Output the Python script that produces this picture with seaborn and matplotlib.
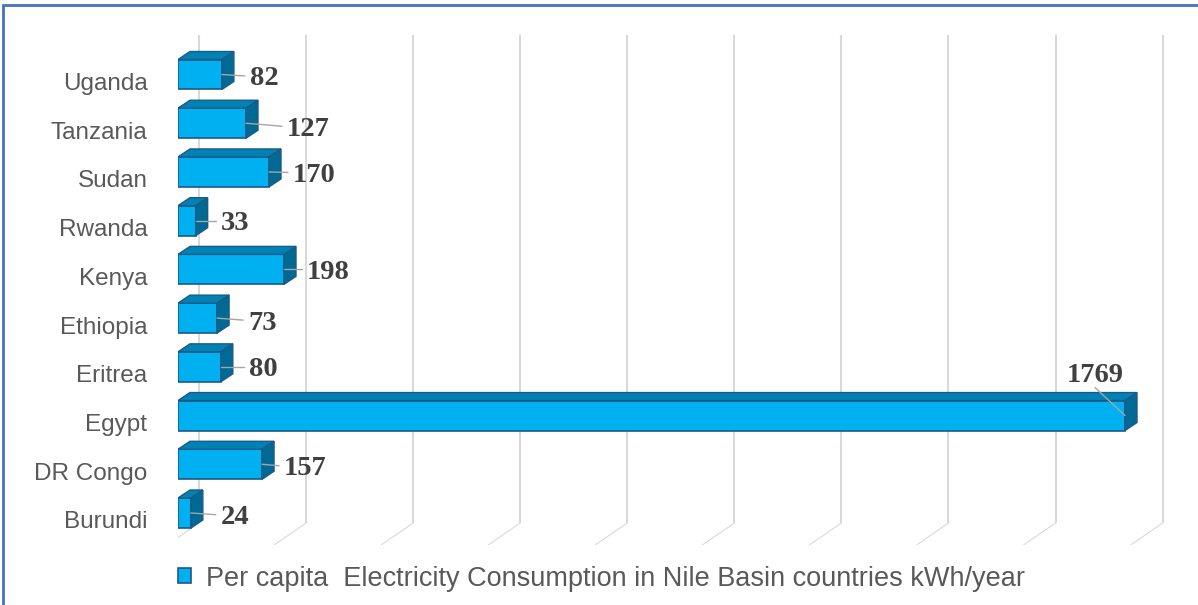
import matplotlib
matplotlib.use("Agg")
import matplotlib.pyplot as plt
from matplotlib.patches import Polygon, Rectangle
from matplotlib.transforms import ScaledTranslation
import seaborn as sns
import pandas as pd

# Per capita electricity consumption, kWh/year
countries = ["Uganda", "Tanzania", "Sudan", "Rwanda", "Kenya",
             "Ethiopia", "Eritrea", "Egypt", "DR Congo", "Burundi"]
consumption = [82, 127, 170, 33, 198, 73, 80, 1769, 157, 24]
grid_values = [0, 200, 400, 600, 800, 1000, 1200, 1400, 1600, 1800]
series_label = "Per capita  Electricity Consumption in Nile Basin countries kWh/year"

# Placement of each value label relative to the bar end, in pixels
# (dx right, dy down to the label's middle, horizontal alignment)
label_place = [(28, 1.5, "left"), (41, 3, "left"), (24, 0.5, "left"),
               (25, 0, "left"), (23, 0, "left"), (31, 2, "left"),
               (28, 0, "left"), (-30, -43, "center"), (22, 1.5, "left"),
               (30, 1.7, "left")]

FRONT = "#00B0F0"
TOP = "#0082B4"
SIDE = "#006A94"
EDGE = "#1C5A86"
GRID = "#D9D9D9"
DEPTH_X, DEPTH_Y = 12, 8          # bar depth in pixels (right, up)
WALL_X = 21                       # back wall offset in pixels

sns.set_theme(style="white")
plt.rcParams["font.family"] = ["Liberation Sans", "DejaVu Sans"]

W, H = 1198, 605
fig = plt.figure(figsize=(W / 100, H / 100), dpi=100)
ax = fig.add_axes([178 / W, 1 - 545 / H, 1000 / W, 510 / H])

df = pd.DataFrame({"country": countries, "kwh": consumption})
sns.barplot(data=df, x="kwh", y="country", orient="h", color=FRONT,
            saturation=1, width=0.615, edgecolor=EDGE, linewidth=1.2,
            label=series_label, ax=ax, zorder=3)

ax.set_xlim(0, 1868)
ax.set_ylim(9.657, -0.8107)
ax.set_xlabel("")
ax.set_ylabel("")
ax.set_xticks([])
for s in ax.spines.values():
    s.set_visible(False)


def nudge(x, y, dx=0.0, dy=0.0):
    """Shift a data point by (dx, dy) screen pixels; dy measured downward."""
    px, py = ax.transData.transform((x, y))
    return ax.transData.inverted().transform((px + dx, py - dy))


y_top, y_bot = ax.get_ylim()[1], ax.get_ylim()[0]

# back wall gridlines and floor lines
for v in grid_values:
    p_top = nudge(v, y_top, WALL_X, 0)
    p_bot = nudge(v, y_bot, WALL_X, -22)
    p_floor = nudge(v, y_bot, WALL_X - 32, 0)
    ax.plot([p_top[0], p_bot[0]], [p_top[1], p_bot[1]], color=GRID,
            lw=1.5, zorder=0, solid_capstyle="butt")
    ax.plot([p_bot[0], p_floor[0]], [p_bot[1], p_floor[1]], color=GRID,
            lw=0.8, zorder=0)

# top and side faces for each bar
for i, bar in enumerate(ax.patches):
    x0 = bar.get_x()
    x1 = x0 + bar.get_width()
    ya = bar.get_y()                  # upper edge on screen (axis inverted)
    yb = ya + bar.get_height()        # lower edge on screen
    top = [nudge(x0, ya), nudge(x1, ya),
           nudge(x1, ya, DEPTH_X, -DEPTH_Y), nudge(x0, ya, DEPTH_X, -DEPTH_Y)]
    side = [nudge(x1, ya), nudge(x1, yb),
            nudge(x1, yb, DEPTH_X, -DEPTH_Y), nudge(x1, ya, DEPTH_X, -DEPTH_Y)]
    ax.add_patch(Polygon(top, closed=True, facecolor=TOP, edgecolor=EDGE,
                         lw=1.0, zorder=3))
    ax.add_patch(Polygon(side, closed=True, facecolor=SIDE, edgecolor=EDGE,
                         lw=1.0, zorder=3))

# value labels with leader lines
for i, (val, (dx, dy, ha)) in enumerate(zip(consumption, label_place)):
    tx, ty = nudge(val, i, dx, dy + 9.5)
    ax.text(tx, ty, f"{val}", ha=ha, va="baseline", fontsize=20.5,
            fontweight="bold", family="Liberation Serif", color="#404040",
            zorder=5)
    start = nudge(val, i, 0, 0)
    if ha == "left":
        end = nudge(val, i, dx - 5, dy)
    else:
        end = nudge(val, i, dx, dy + 15)
    ax.plot([start[0], end[0]], [start[1], end[1]], color="#A6A6A6",
            lw=1.0, zorder=4)

# category labels
ax.tick_params(axis="y", length=0, pad=22, labelsize=17.5, labelcolor="#595959")
for lab in ax.get_yticklabels():
    lab.set_transform(lab.get_transform() +
                      ScaledTranslation(0, -7 / 100, fig.dpi_scale_trans))

# legend
leg = ax.legend(loc="center left", bbox_to_anchor=(178 / W, 1 - 578.5 / H),
                bbox_transform=fig.transFigure, frameon=False, fontsize=19.5,
                handlelength=0.48, handleheight=0.48, handletextpad=0.57,
                borderpad=0, borderaxespad=0)
for t in leg.get_texts():
    t.set_color("#595959")
for h in leg.legend_handles:
    h.set_edgecolor(EDGE)

# outer frame
fig.add_artist(Rectangle((3 / W, -0.05), 1.2, 1 - 5 / H + 0.05,
                         transform=fig.transFigure, fill=False,
                         edgecolor="#4472C4", lw=2))

fig.savefig("out.png", dpi=100)
